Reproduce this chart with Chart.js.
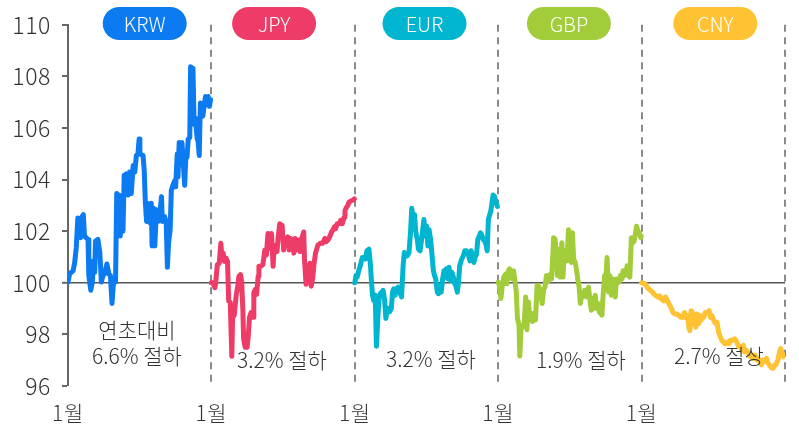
<!DOCTYPE html>
<html>
<head>
<meta charset="utf-8">
<script src="https://cdn.jsdelivr.net/npm/chart.js@4/dist/chart.umd.min.js"></script>
<style>
html,body{margin:0;padding:0;background:#fff;}
#wrap{width:799px;height:425px;position:relative;}
</style>
</head>
<body>
<div id="wrap"><canvas id="c" width="799" height="425"></canvas></div>
<script>
const currencies = ['KRW','JPY','EUR','GBP','CNY'];
const xTickLabel = '1월';
const yTicks = [96,98,100,102,104,106,108,110];
const notes = ['연초대비\n6.6% 절하','3.2% 절하','3.2% 절하','1.9% 절하','2.7% 절상'];

const krwDays = [0,4,13,17,21,25,30,32,36,39,42,51,53,58,62,65,68,70,76,81,85,89,93,99,104,108,112,116,121,124,127,130,133,137,140,143,146,149,153,157,161,166,170,174,178,181,183,191,194,197,200,202,205,209,212,214,218,221,225,229,233,238,240,246,250,253,256,260,263,267,272,274,278,280,283,287,290,294,297,300,303,306,310,312,318,321,324,329,331,334,337,340,343,346,350,353,357,360,363];
const krwValues = [100.03,100.34,100.47,100.79,101.36,102.51,102.45,101.75,102.57,102.64,101.81,101.68,100.28,99.71,100.03,100.85,100.41,101.62,101.68,101.17,100.03,100.28,100.34,100.73,100.34,100.28,99.2,100.03,100.03,103.46,102.7,103.4,101.81,103.34,102.0,104.17,103.46,104.23,103.4,104.29,103.46,104.55,104.29,104.93,104.99,105.57,104.99,104.93,104.36,103.08,102.38,103.08,102.38,102.32,103.08,101.43,102.89,101.43,102.83,102.38,102.57,103.34,102.38,102.57,102.32,100.6,101.55,102.06,103.59,103.78,103.97,103.72,104.99,104.1,105.44,104.87,105.44,104.48,103.78,104.87,104.87,105.57,105.63,108.37,108.31,106.14,106.39,105.57,105.5,104.93,106.97,106.78,106.46,106.78,107.22,106.9,107.22,106.84,107.1];

const jpyDays = [0,4,9,11,15,20,24,27,30,33,37,41,44,48,52,54,58,63,67,70,74,77,80,82,86,88,91,94,97,101,106,108,112,115,119,121,125,131,136,140,144,149,153,157,160,163,167,170,174,177,180,184,187,192,195,198,202,206,210,213,217,222,226,230,235,237,241,244,247,251,254,258,261,265,271,277,283,289,292,297,301,306,309,313,316,320,325,329,333,338,340,344,347,350,356,361,364];
const jpyValues = [100,100,99.81,100,100.7,100.76,101.53,100.96,101.15,100.83,100.96,100.83,99.3,99.24,97.15,98.66,98.73,99.49,99.87,100.25,100.32,100.06,98.98,97.83,97.5,97.77,97.5,97.96,98.66,98.85,98.66,99.62,99.75,99.55,100.25,100.64,100.64,100.7,101.27,101.08,101.91,101.34,101.91,100.64,101.46,101.34,101.21,101.78,102.29,101.91,102.23,101.27,101.72,101.46,101.78,101.27,101.72,101.59,101.15,101.72,101.27,101.66,101.21,101.72,101.97,100.89,99.94,100.25,100.51,100.76,99.87,100.19,100.7,101.15,101.46,101.53,101.53,101.72,101.59,101.66,101.78,101.97,102.04,102.17,102.1,102.29,102.29,102.42,102.29,102.55,102.8,102.93,102.99,103.12,103.18,103.21,103.25];

const eurDays = [0,3,6,10,14,19,23,27,31,36,40,42,45,48,52,55,59,62,65,69,72,76,79,82,86,89,93,96,99,103,106,110,115,119,123,126,130,133,138,142,145,149,152,155,159,162,166,169,172,176,179,183,186,189,193,196,200,203,206,210,213,216,220,223,227,230,233,237,240,244,247,250,254,257,261,264,267,272,276,280,284,289,293,296,300,303,306,310,313,317,320,323,327,330,334,337,340,342,346,349,352,356,359,363];
const eurValues = [100,100.28,100.22,100.47,100.66,100.98,100.92,100.92,101.24,101.3,100.66,100.15,99.52,99.32,99.52,97.54,98.75,99.39,99.58,99.64,99.71,99.32,98.62,98.94,99.01,98.88,99.01,99.64,99.77,99.52,99.77,99.83,99.64,99.45,100.66,101.17,101.11,101.04,101.17,102.0,102.89,102.45,102.64,102.0,101.68,101.3,101.24,101.55,101.94,102.45,101.81,102.19,101.43,102.06,101.68,101.17,100.47,100.28,100.15,99.64,99.58,99.9,99.64,100.09,100.47,100.22,100.54,100.15,100.6,100.09,100.41,100.28,99.96,99.9,99.64,100.03,100.66,100.92,101.04,101.24,101.24,101.11,100.85,101.24,101.04,100.79,100.98,101.11,101.68,101.81,101.94,101.87,101.68,101.62,101.49,101.24,102.45,102.57,102.76,103.08,103.4,103.34,103.15,102.96];

const gbpDays = [0,3,7,10,14,19,22,26,29,32,36,39,43,46,49,53,55,58,61,66,70,73,77,80,83,87,91,95,99,102,106,109,112,116,119,123,126,129,133,136,138,141,145,148,151,155,158,162,165,168,172,175,179,182,186,189,192,196,199,203,206,209,213,216,220,223,226,230,233,237,240,243,247,250,254,257,260,264,267,271,274,277,281,284,288,291,294,298,301,305,308,311,315,318,322,325,328,332,335,339,342,346,349,352,356,359,363,364];
const gbpValues = [100.03,99.9,99.39,99.83,100.22,100.34,99.96,100.47,100.54,100.41,100.15,100.47,100.03,99.64,98.62,98.37,97.16,98.18,98.31,98.37,99.45,98.18,99.26,98.62,98.82,98.5,98.82,98.56,99.9,99.9,99.71,99.45,99.2,99.77,99.83,100.28,100.03,100.22,100.34,100.15,100.73,101.75,101.68,101.04,100.28,101.3,100.22,101.55,100.22,101.17,101.24,100.85,102.06,101.62,100.79,101.94,100.92,100.79,100.54,100.09,99.83,99.2,99.58,99.45,99.71,99.58,99.45,99.83,99.39,98.94,99.39,99.01,99.52,99.01,99.2,98.88,98.82,98.75,99.52,100.28,100.09,100.98,99.64,100.28,99.52,100.15,100.03,99.45,100.15,100.09,100.03,100.28,100.15,100.47,100.28,100.34,100.66,100.28,100.22,101.75,101.55,101.62,101.87,102.19,102.0,101.94,101.75,101.81];

const cnyDays = [0,9,15,22,27,32,37,43,46,51,56,61,66,70,75,80,85,90,95,100,106,109,112,117,121,123,126,129,134,138,141,145,148,151,155,158,162,167,172,175,179,182,186,189,192,196,199,204,208,211,214,220,223,226,231,237,242,247,252,255,259,262,266,271,274,277,281,284,289,293,296,301,305,308,311,315,318,322,325,328,332,335,339,342,347,351,354,357,361,364];
const cnyValues = [100,99.96,99.81,99.71,99.66,99.55,99.49,99.43,99.49,99.36,99.3,99.45,99.3,99.17,99.04,98.85,98.79,98.79,98.73,98.66,98.66,98.85,98.66,98.73,98.22,98.15,98.92,98.85,98.47,98.28,98.79,98.41,98.73,98.54,98.66,98.66,98.85,98.85,98.92,98.66,98.73,98.6,98.47,98.41,98.47,98.09,97.96,97.77,97.71,97.64,97.64,97.71,97.64,97.77,97.77,97.83,97.71,97.52,97.52,97.39,97.58,97.32,97.39,97.32,97.2,97.13,97.2,97.07,97.2,97.01,97.07,96.94,96.82,97.01,96.94,97.01,97.07,96.88,96.82,96.75,96.69,96.69,96.82,96.82,97.01,97.32,97.45,97.32,97.13,97.2];

const seriesDays = [krwDays, jpyDays, eurDays, gbpDays, cnyDays];
const seriesValues = [krwValues, jpyValues, eurValues, gbpValues, cnyValues];
const colors = ['#0c7bf2','#ee3b67','#00b5cf','#a3cc3a','#ffc233'];

const FONT = "'Noto Sans CJK KR', 'Noto Sans', sans-serif";

const datasets = currencies.map((name, i) => ({
  label: name,
  data: seriesDays[i].slice(0, seriesValues[i].length).map((d, k) => ({ x: i + d / 365, y: seriesValues[i][k] })),
  borderColor: colors[i],
  backgroundColor: colors[i],
  borderWidth: 5,
  pointRadius: 0,
  tension: 0,
  borderJoinStyle: 'round',
  borderCapStyle: 'round'
}));

const decorPlugin = {
  id: 'decor',
  beforeDraw(chart) {
    chart.ctx.letterSpacing = '0.6px';
  },
  beforeDatasetsDraw(chart) {
    const { ctx, chartArea, scales } = chart;
    ctx.save();
    ctx.strokeStyle = '#8a8a8a';
    ctx.lineWidth = 2;
    ctx.setLineDash([7, 5.5]);
    for (let i = 1; i <= currencies.length; i++) {
      const px = Math.round(scales.x.getPixelForValue(i)) ;
      ctx.beginPath();
      ctx.moveTo(px, chartArea.top);
      ctx.lineTo(px, chartArea.bottom);
      ctx.stroke();
    }
    ctx.restore();
  },
  afterDraw(chart) {
    const { ctx, scales } = chart;
    ctx.save();
    ctx.letterSpacing = '0px';
    // pills
    const offs = [5, -9, -2, -1, 2];
    const w = 84, h = 33, cy = 23.5;
    currencies.forEach((name, i) => {
      const cx = scales.x.getPixelForValue(i + 0.5) + offs[i];
      const x0 = cx - w / 2, y0 = cy - h / 2, r = h / 2;
      ctx.fillStyle = colors[i];
      ctx.beginPath();
      ctx.moveTo(x0 + r, y0);
      ctx.lineTo(x0 + w - r, y0);
      ctx.arc(x0 + w - r, cy, r, -Math.PI / 2, Math.PI / 2);
      ctx.lineTo(x0 + r, y0 + h);
      ctx.arc(x0 + r, cy, r, Math.PI / 2, Math.PI * 1.5);
      ctx.closePath();
      ctx.fill();
      ctx.fillStyle = '#ffffff';
      ctx.font = "300 20px " + FONT;
      ctx.textAlign = 'center';
      ctx.textBaseline = 'middle';
      ctx.fillText(name, cx, cy + 1);
    });
    // notes
    const noteX = [137, 282, 431, 581, 719];
    const noteY = [[330, 356], [360], [359], [360], [356]];
    ctx.fillStyle = '#333333';
    ctx.font = "300 21px " + FONT;
    ctx.textAlign = 'center';
    ctx.textBaseline = 'middle';
    notes.forEach((t, i) => {
      const lines = t.split('\n');
      lines.forEach((ln, k) => {
        ctx.fillText(ln, noteX[i], noteY[i][k]);
      });
    });
    ctx.restore();
  }
};

new Chart(document.getElementById('c'), {
  type: 'line',
  data: { datasets },
  plugins: [decorPlugin],
  options: {
    responsive: false,
    animation: false,
    layout: { padding: { top: 19, right: 13, left: 0, bottom: 0 } },
    plugins: { legend: { display: false }, tooltip: { enabled: false } },
    scales: {
      x: {
        type: 'linear',
        min: 0,
        max: currencies.length,
        afterFit(s) { s.height = 39; },
        afterBuildTicks(s) { s.ticks = [0,1,2,3,4,5].map(v => ({ value: v })); },
        ticks: {
          autoSkip: false,
          maxRotation: 0,
          padding: 14,
          color: '#333333',
          font: { family: FONT, size: 21, weight: '300' },
          callback: (v) => (v < currencies.length ? xTickLabel : '')
        },
        grid: { display: false, drawTicks: false },
        border: { display: false }
      },
      y: {
        min: 96,
        max: 110,
        afterFit(s) { s.width = 68; },
        afterBuildTicks(s) { s.ticks = yTicks.map(v => ({ value: v })); },
        ticks: {
          padding: 11,
          color: '#333333',
          font: { family: FONT, size: 23, weight: '300' }
        },
        grid: {
          color: (c) => (c.tick && c.tick.value === 100 ? '#555555' : 'rgba(0,0,0,0)'),
          lineWidth: (c) => (c.tick && c.tick.value === 100 ? 1.6 : 0),
          drawTicks: true,
          tickLength: 6,
          tickColor: '#666666',
          tickWidth: 2
        },
        border: { display: true, color: '#666666', width: 2 }
      }
    }
  }
});
</script>
</body>
</html>
